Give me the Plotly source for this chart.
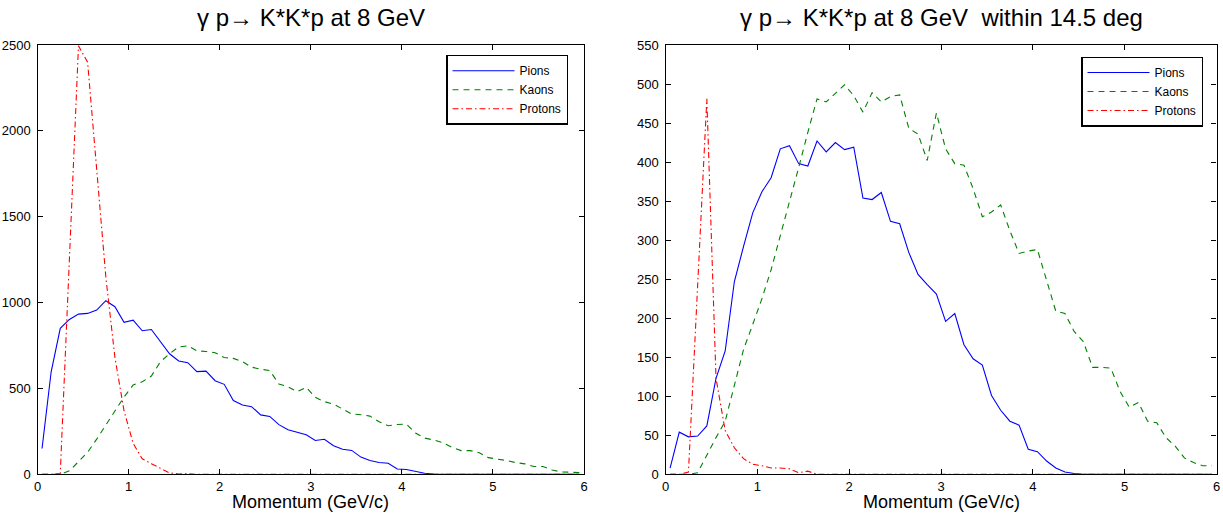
import plotly.graph_objects as go

# Bin centres (GeV/c)
momentum = [0.05, 0.15, 0.25, 0.35, 0.45, 0.55, 0.65, 0.75, 0.85, 0.95,
            1.05, 1.15, 1.25, 1.35, 1.45, 1.55, 1.65, 1.75, 1.85, 1.95,
            2.05, 2.15, 2.25, 2.35, 2.45, 2.55, 2.65, 2.75, 2.85, 2.95,
            3.05, 3.15, 3.25, 3.35, 3.45, 3.55, 3.65, 3.75, 3.85, 3.95,
            4.05, 4.15, 4.25, 4.35, 4.45, 4.55, 4.65, 4.75, 4.85, 4.95,
            5.05, 5.15, 5.25, 5.35, 5.45, 5.55, 5.65, 5.75, 5.85, 5.95]

# Left panel: all angles
pions_all = [150, 597, 850, 902, 933, 937, 956, 1011, 976, 885,
             898, 836, 843, 772, 702, 660, 650, 598, 601, 545,
             524, 430, 404, 394, 346, 337, 289, 259, 245, 230,
             197, 204, 166, 146, 139, 100, 80, 69, 64, 31,
             28, 15, 6, 2, 1, 0, 0, 0, 0, 0,
             0, 0, 0, 0, 0, 0, 0, 0, 0, 0]
kaons_all = [0, 0, 0, 20, 74, 128, 205, 286, 370, 450,
             520, 539, 572, 656, 702, 742, 748, 719, 715, 708,
             680, 675, 656, 624, 612, 604, 526, 510, 481, 506,
             448, 423, 409, 379, 351, 347, 339, 306, 283, 290,
             292, 240, 211, 200, 184, 157, 138, 138, 126, 97,
             89, 80, 68, 61, 45, 45, 25, 14, 12, 10]
protons_all = [0, 0, 5, 1220, 2495, 2400, 1750, 1150, 680, 370,
               180, 90, 62, 35, 8, 2, 4, 0, 0, 0,
               0, 0, 0, 0, 0, 0, 0, 0, 0, 0,
               0, 0, 0, 0, 0, 0, 0, 0, 0, 0,
               0, 0, 0, 0, 0, 0, 0, 0, 0, 0,
               0, 0, 0, 0, 0, 0, 0, 0, 0, 0]

# Right panel: within 14.5 deg
pions_cut = [8, 54, 48, 49, 62, 123, 158, 247, 292, 335,
             362, 380, 417, 421, 398, 395, 427, 413, 425, 416,
             419, 354, 352, 361, 324, 321, 284, 256, 243, 231,
             196, 206, 166, 148, 140, 101, 82, 68, 63, 32,
             29, 17, 8, 3, 1, 0, 0, 0, 0, 0,
             0, 0, 0, 0, 0, 0, 0, 0, 0, 0]
kaons_cut = [0, 0, 0, 2, 25, 47, 68, 113, 160, 192,
             225, 262, 305, 347, 393, 438, 481, 477, 488, 499,
             485, 464, 489, 477, 484, 486, 443, 436, 402, 463,
             417, 398, 396, 366, 330, 336, 345, 312, 283, 286,
             288, 250, 209, 206, 183, 170, 137, 137, 136, 106,
             86, 92, 68, 66, 47, 36, 21, 15, 11, 11]
protons_cut = [0, 0, 3, 240, 481, 123, 56, 34, 20, 13,
               11, 8, 8, 7, 2, 4, 0, 0, 0, 0,
               0, 0, 0, 0, 0, 0, 0, 0, 0, 0,
               0, 0, 0, 0, 0, 0, 0, 0, 0, 0,
               0, 0, 0, 0, 0, 0, 0, 0, 0, 0,
               0, 0, 0, 0, 0, 0, 0, 0, 0, 0]

names = ["Pions", "Kaons", "Protons"]
colors = ["#0000ff", "#008000", "#ff0000"]
dashes = ["solid", "6px,5px", "6px,3px,1.5px,3px"]
xticks = [0, 1, 2, 3, 4, 5, 6]
left_yticks = [0, 500, 1000, 1500, 2000, 2500]
right_yticks = [0, 50, 100, 150, 200, 250, 300, 350, 400, 450, 500, 550]
titles = ["\u03b3 p\u2192 K*K*p at 8 GeV",
          "\u03b3 p\u2192 K*K*p at 8 GeV \u00a0within 14.5 deg"]
xtitle = "Momentum (GeV/c)"

W, H = 1223, 514
ML, MR, MT, MB = 30, 4, 30, 30
PW, PH = W - ML - MR, H - MT - MB
FONT = "Arial, Liberation Sans, Helvetica, sans-serif"


def px_x(px):
    return (px - ML) / PW


def px_y(py):
    return (H - MB - py) / PH


fig = go.Figure()
for series, xa, ya, lg in [((pions_all, kaons_all, protons_all), "x", "y", "legend"),
                           ((pions_cut, kaons_cut, protons_cut), "x2", "y2", "legend2")]:
    for vals, nm, c, d in zip(series, names, colors, dashes):
        fig.add_trace(go.Scatter(x=momentum, y=vals, mode="lines", name=nm,
                                 line=dict(color=c, width=1.1, dash=d),
                                 xaxis=xa, yaxis=ya, legend=lg))

# pixel geometry of the two plot boxes
lx0, lx1 = 37.5, 584.0
rx0, rx1 = 665.5, 1216.5
ytop, ybot = 45.0, 474.3


def ax_common():
    return dict(showline=True, linecolor="black", linewidth=1.3, mirror="ticks",
                ticks="inside", ticklen=5, tickwidth=1, tickcolor="black",
                showgrid=False, zeroline=False, automargin=False,
                tickfont=dict(family=FONT, size=13, color="black"))


ydom = [px_y(ybot), px_y(ytop)]
legend_common = dict(xanchor="right", yanchor="top",
                     bordercolor="black", borderwidth=1.5, bgcolor="white",
                     font=dict(family=FONT, size=12, color="black"),
                     itemwidth=62, tracegroupgap=0)
fig.update_layout(
    xaxis=dict(domain=[px_x(lx0), px_x(lx1)], range=[0, 6], tickvals=xticks,
               anchor="y", **ax_common()),
    yaxis=dict(domain=ydom, range=[0, 2500], tickvals=left_yticks, anchor="x",
               ticklabelstandoff=3, **ax_common()),
    xaxis2=dict(domain=[px_x(rx0), px_x(rx1)], range=[0, 6], tickvals=xticks,
                anchor="y2", **ax_common()),
    yaxis2=dict(domain=ydom, range=[0, 550], tickvals=right_yticks, anchor="x2",
                ticklabelstandoff=3, **ax_common()),
    width=W, height=H,
    margin=dict(l=ML, r=MR, t=MT, b=MB, autoexpand=False),
    paper_bgcolor="white", plot_bgcolor="white",
    showlegend=True,
    legend=dict(x=px_x(568), y=px_y(54.7), **legend_common),
    legend2=dict(x=px_x(1203), y=px_y(56.5), **legend_common),
    annotations=[
        dict(text=titles[0], x=px_x((lx0 + lx1) / 2), y=px_y(17), xref="paper", yref="paper",
             showarrow=False, xanchor="center", yanchor="middle",
             font=dict(family=FONT, size=24, color="black")),
        dict(text=titles[1], x=px_x((rx0 + rx1) / 2), y=px_y(17), xref="paper", yref="paper",
             showarrow=False, xanchor="center", yanchor="middle",
             font=dict(family=FONT, size=24, color="black")),
        dict(text=xtitle, x=px_x((lx0 + lx1) / 2), y=px_y(502), xref="paper", yref="paper",
             showarrow=False, xanchor="center", yanchor="middle",
             font=dict(family=FONT, size=18, color="black")),
        dict(text=xtitle, x=px_x((rx0 + rx1) / 2), y=px_y(502), xref="paper", yref="paper",
             showarrow=False, xanchor="center", yanchor="middle",
             font=dict(family=FONT, size=18, color="black")),
    ],
)

fig.write_html("out.html", config={"displayModeBar": False},
               post_script="document.body.style.margin='0';document.body.style.overflow='hidden';")
